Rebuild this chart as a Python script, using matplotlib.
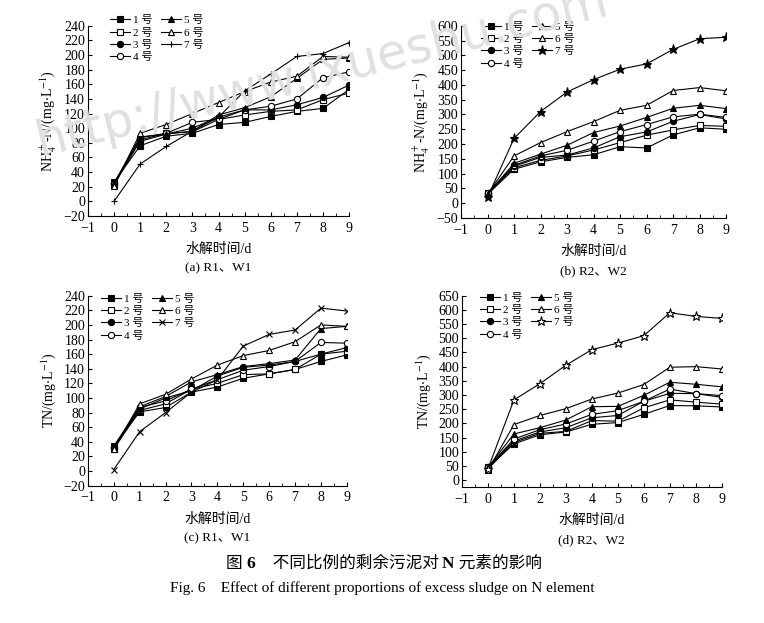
import numpy as np
import matplotlib
matplotlib.use('Agg')
import matplotlib.pyplot as plt

plt.rcParams['font.family'] = ['Liberation Serif', 'Noto Sans CJK SC']
plt.rcParams['mathtext.fontset'] = 'stix'

# dati
days = [0, 1, 2, 3, 4, 5, 6, 7, 8, 9]
labels = ['1 号', '2 号', '3 号', '4 号', '5 号', '6 号', '7 号']

# (a) NH4+-N, R1 W1
nh4_a = [
    [26, 76, 89, 93, 105, 108, 116, 123, 127, 153],
    [22, 84, 93, 95, 112, 118, 123, 125, 139, 148],
    [25, 82, 92, 100, 115, 125, 125, 132, 142, 159],
    [24, 87, 93, 108, 112, 125, 130, 140, 169, 177],
    [25, 88, 92, 96, 118, 128, 143, 168, 194, 196],
    [21, 93, 105, 120, 135, 150, 163, 171, 198, 197],
    [0, 51, 75, 96, 115, 151, 174, 198, 202, 217],
]
# (b) NH4+-N, R2 W2
nh4_b = [
    [30, 115, 140, 155, 164, 191, 187, 231, 255, 250],
    [35, 120, 145, 160, 180, 205, 230, 248, 263, 260],
    [30, 125, 155, 163, 187, 225, 241, 277, 300, 285],
    [35, 128, 160, 179, 210, 242, 266, 292, 301, 290],
    [30, 135, 166, 196, 239, 261, 290, 321, 331, 320],
    [30, 160, 205, 242, 276, 314, 331, 381, 391, 380],
    [20, 219, 310, 376, 418, 453, 471, 520, 556, 561],
]
# (c) TN, R1 W1
tn_c = [
    [34, 81, 87, 108, 115, 127, 133, 139, 150, 159],
    [30, 83, 92, 112, 120, 132, 133, 139, 160, 164],
    [33, 85, 100, 110, 130, 142, 145, 150, 160, 169],
    [32, 87, 96, 112, 125, 138, 143, 150, 176, 175],
    [34, 88, 102, 122, 132, 143, 147, 152, 195, 198],
    [30, 92, 105, 126, 145, 158, 165, 177, 200, 198],
    [2, 54, 80, 108, 125, 171, 187, 193, 223, 219],
]
# (d) TN, R2 W2
tn_d = [
    [45, 128, 160, 170, 197, 203, 232, 263, 262, 258],
    [40, 133, 165, 172, 210, 208, 255, 283, 275, 268],
    [45, 138, 170, 185, 220, 228, 278, 306, 305, 292],
    [45, 145, 178, 198, 232, 245, 278, 321, 305, 298],
    [45, 163, 185, 212, 259, 260, 299, 345, 338, 329],
    [35, 196, 228, 252, 286, 307, 337, 398, 400, 392],
    [40, 283, 340, 405, 460, 483, 509, 590, 577, 570],
]

# marcatori: (simbolo, pieno?)
base_markers = [('s', True), ('s', False), ('o', True), ('o', False), ('^', True), ('^', False)]
last_marker = [('+', True), ('*', True), ('x', True), ('*', False)]

pannelli = [
    (nh4_a, [0.115, 0.6533, 0.342, 0.3054], (-20, 240), 20, r'NH$_4^+$-N/(mg$\cdot$L$^{-1}$)', '(a) R1、W1', (-20, 240), (0.085, 1.055)),
    (nh4_b, [0.6034, 0.650, 0.347, 0.3087], (-50, 600), 50, r'NH$_4^+$-N/(mg$\cdot$L$^{-1}$)', '(b) R2、W2', (-50, 600), (0.075, 1.02)),
    (tn_c, [0.115, 0.2204, 0.339, 0.305], (-20, 240), 20, r'TN/(mg$\cdot$L$^{-1}$)', '(c) R1、W1', (-20, 240), (0.05, 1.01)),
    (tn_d, [0.6047, 0.2178, 0.340, 0.3076], (0, 650), 50, r'TN/(mg$\cdot$L$^{-1}$)', '(d) R2、W2', (-25, 650), (0.07, 1.015)),
]

fig = plt.figure(figsize=(7.64, 6.23), dpi=100)

# filigrana (sotto i grafici)
fig.text(0.052, 1 - 156 / 623, 'http://www.ixueshu.com', rotation=14, rotation_mode='anchor',
         fontsize=35, color='#e0e0e0', family='DejaVu Sans', ha='left', va='baseline', zorder=0)

for k, (dati, pos, yr, ystep, ylab, sub, ylim, lpos) in enumerate(pannelli):
    ax = fig.add_axes(pos)
    ax.set_facecolor('none')
    styles = base_markers + [last_marker[k]]
    for i in range(7):
        mk, pieno = styles[i]
        ms = 4.5
        if mk == '*':
            ms = 6.5
        if mk in ('+', 'x'):
            ms = 5
        ax.plot(days, dati[i], '-', color='black', lw=0.8, marker=mk, ms=ms,
                mfc='black' if pieno else 'white', mec='black', mew=0.8, label=labels[i])
    ax.set_xlim(-1, 9)
    ax.set_ylim(*ylim)
    ax.set_xticks(np.arange(-1, 10, 1))
    ax.set_xticks(np.arange(-1, 9.01, 0.5), minor=True)
    ax.set_yticks(np.arange(yr[0], yr[1] + 1, ystep))
    ax.set_yticklabels([str(v).replace('-', '\u2212') for v in np.arange(yr[0], yr[1] + 1, ystep)])
    ax.spines['top'].set_visible(False)
    ax.spines['right'].set_visible(False)
    ax.tick_params(direction='in', length=3, width=0.8, labelsize=10, pad=2)
    ax.tick_params(axis='x', which='minor', direction='in', length=2, width=0.6)
    ax.tick_params(axis='x', pad=4)
    ax.set_ylabel(ylab, fontsize=10, labelpad=4)
    ax.set_xlabel('水解时间/d', fontsize=10, labelpad=6)
    ax.text(0.5, -0.275, sub, transform=ax.transAxes, ha='center', va='center', fontsize=9.5)
    leg = ax.legend(ncol=2, loc='upper left', bbox_to_anchor=lpos, frameon=False,
                    fontsize=8, handlelength=1.8, handletextpad=0.25, columnspacing=0.8,
                    labelspacing=0.2, borderaxespad=0, borderpad=0)

# didascalia cinese con "6" e "N" in grassetto
cjk = ['Noto Sans CJK SC', 'DejaVu Sans']
pezzi = [('图 ', cjk, 'normal', 12), ('6', ['Liberation Serif'], 'bold', 12.5),
         ('　不同比例的剩余污泥对 ', cjk, 'normal', 12), ('N', ['Liberation Serif'], 'bold', 12.5),
         (' 元素的影响', cjk, 'normal', 12)]
renderer = fig.canvas.get_renderer()
oggetti = []
larghezza = 0
for testo, fam, peso, fs in pezzi:
    t = fig.text(0, 1 - 568 / 623, testo, family=fam, weight=peso, fontsize=fs, ha='left', va='baseline')
    w = t.get_window_extent(renderer).width
    oggetti.append((t, w))
    larghezza += w
x0 = (764 - larghezza) / 2 + 2
for t, w in oggetti:
    t.set_x(x0 / 764)
    x0 += w

fig.text(0.5, 1 - 588 / 623, 'Fig. 6　Effect of different proportions of excess sludge on N element',
         ha='center', va='center', fontsize=11)

fig.savefig('out.png', dpi=100)
